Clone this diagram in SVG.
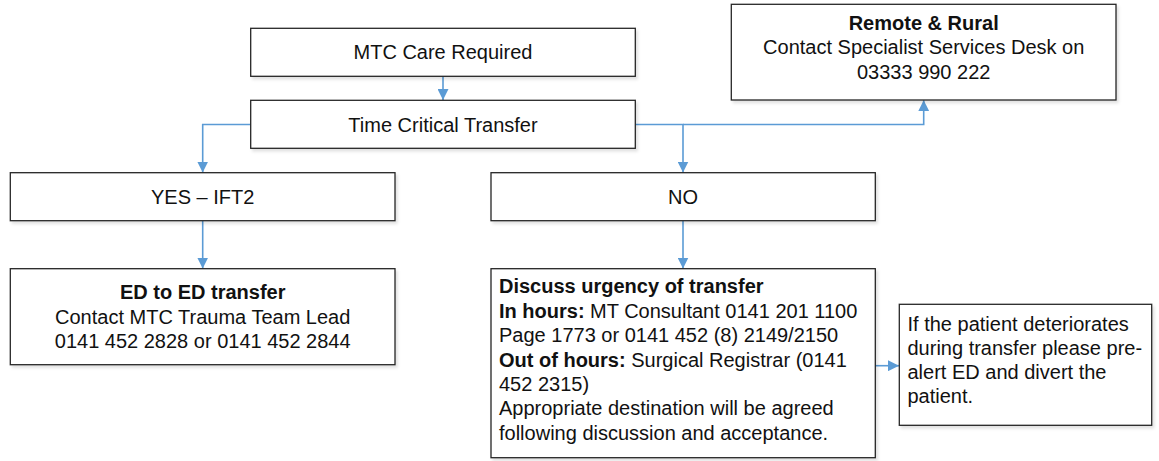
<svg xmlns="http://www.w3.org/2000/svg" width="1159" height="461" viewBox="0 0 1159 461">
<style>
  .box { fill: #ffffff; stroke: #262626; stroke-width: 1.3; filter: url(#shadow); }
  .t { font-family: "Liberation Sans", Arial, sans-serif; font-size: 20px; fill: #111111; }
  .c { text-anchor: middle; }
  .b { font-weight: bold; }
  .conn { fill: none; stroke: #5B9BD5; stroke-width: 1.6; }
</style>
<defs>
  <filter id="shadow" x="-5%" y="-10%" width="110%" height="130%">
    <feDropShadow dx="2" dy="2.5" stdDeviation="1.5" flood-color="#000000" flood-opacity="0.12"/>
  </filter>
  <marker id="arrow" viewBox="0 0 10 10" refX="10" refY="5" markerWidth="11" markerHeight="11" markerUnits="userSpaceOnUse" orient="auto">
    <path d="M0,0 L10,5 L0,10 z" fill="#5B9BD5"/>
  </marker>
</defs>

<g id="connectors">
  <path class="conn" d="M443,76.3 V100" marker-end="url(#arrow)"/>
  <path class="conn" d="M250.7,124.5 H202.7 V172.5" marker-end="url(#arrow)"/>
  <path class="conn" d="M635.3,124.5 H683 V172.5" marker-end="url(#arrow)"/>
  <path class="conn" d="M683,124.5 H923.7 V100.2" marker-end="url(#arrow)"/>
  <path class="conn" d="M202.7,220.7 V268.5" marker-end="url(#arrow)"/>
  <path class="conn" d="M683,220.7 V268.5" marker-end="url(#arrow)"/>
  <path class="conn" d="M875,365.7 H899" marker-end="url(#arrow)"/>
</g>

<g id="node-mtc-care">
  <rect class="box" x="250.7" y="28.3" width="384.6" height="48"/>
  <text class="t c" x="443" y="59.3">MTC Care Required</text>
</g>

<g id="node-time-critical">
  <rect class="box" x="250.7" y="100.3" width="384.6" height="48"/>
  <text class="t c" x="443" y="131.5">Time Critical Transfer</text>
</g>

<g id="node-remote-rural">
  <rect class="box" x="731.3" y="4.3" width="384.7" height="95.7"/>
  <text class="t c b" x="923.7" y="30">Remote &amp; Rural</text>
  <text class="t c" x="923.7" y="54.4">Contact Specialist Services Desk on</text>
  <text class="t c" x="923.7" y="78.8">03333 990 222</text>
</g>

<g id="node-yes">
  <rect class="box" x="10.3" y="172.7" width="384.7" height="48"/>
  <text class="t c" x="202.7" y="203.9">YES – IFT2</text>
</g>

<g id="node-no">
  <rect class="box" x="491" y="172.7" width="384.3" height="48"/>
  <text class="t c" x="683" y="203.9">NO</text>
</g>

<g id="node-ed-to-ed">
  <rect class="box" x="10.3" y="268.7" width="384.7" height="96"/>
  <text class="t c b" x="202.7" y="299.3">ED to ED transfer</text>
  <text class="t c" x="202.7" y="323.7">Contact MTC Trauma Team Lead</text>
  <text class="t c" x="202.7" y="348.1">0141 452 2828 or 0141 452 2844</text>
</g>

<g id="node-discuss">
  <rect class="box" x="491" y="268.7" width="384.3" height="189"/>
  <text class="t b" x="499" y="293.3">Discuss urgency of transfer</text>
  <text class="t" x="499" y="317.7"><tspan class="b">In hours:</tspan> MT Consultant 0141 201 1100</text>
  <text class="t" x="499" y="342.1">Page 1773 or 0141 452 (8) 2149/2150</text>
  <text class="t" x="499" y="366.5"><tspan class="b">Out of hours:</tspan> Surgical Registrar (0141</text>
  <text class="t" x="499" y="390.9">452 2315)</text>
  <text class="t" x="499" y="415.3">Appropriate destination will be agreed</text>
  <text class="t" x="499" y="439.7">following discussion and acceptance.</text>
</g>

<g id="node-deteriorate">
  <rect class="box" x="899.3" y="304.3" width="252.4" height="121"/>
  <text class="t" x="907.5" y="330.5">If the patient deteriorates</text>
  <text class="t" x="907.5" y="354.5">during transfer please pre-</text>
  <text class="t" x="907.5" y="378.5">alert ED and divert the</text>
  <text class="t" x="907.5" y="402.5">patient.</text>
</g>
</svg>
